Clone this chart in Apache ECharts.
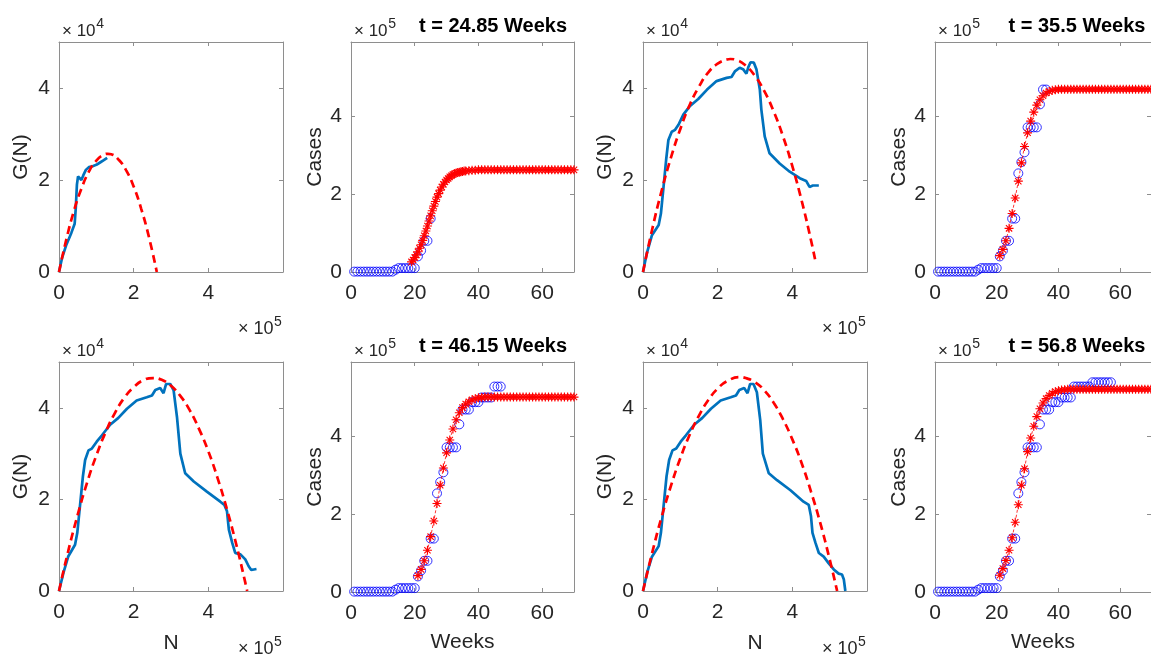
<!DOCTYPE html>
<html><head><meta charset="utf-8">
<script src="https://cdn.jsdelivr.net/npm/echarts@6/dist/echarts.min.js"></script>
<style>html,body{margin:0;padding:0;background:#fff;}#c{width:1151px;height:655px;}</style>
</head><body><div id="c"></div>
<script>
// ---------- DATA (N in 10^5, G(N) in 10^4, Cases in 10^5) ----------
const titles = ['t = 24.85 Weeks', 't = 35.5 Weeks', 't = 46.15 Weeks', 't = 56.8 Weeks'];
const gnTicks = [0, 2, 4];
const weekTicks = [0, 20, 40, 60];

// Observed G(N) curves (blue)
const obsN1 = [0,0.08,0.2,0.33,0.42,0.45,0.48,0.51,0.56,0.6,0.65,0.72,0.8,0.9,1.0,1.1,1.2,1.29];
const obsG1 = [0,0.3,0.6,0.85,1.05,1.4,1.9,2.08,2.1,2.0,2.1,2.22,2.28,2.3,2.33,2.38,2.43,2.48];
const obsN3 = [0,0.1,0.24,0.42,0.48,0.55,0.62,0.68,0.77,0.86,0.95,1.08,1.26,1.48,1.71,1.97,2.24,2.37,2.46,2.59,2.68,2.77,2.82,2.88,2.97,3.04,3.13,3.17,3.26,3.39,3.66,3.93,4.2,4.37,4.46,4.55,4.71];
const obsG3 = [0,0.4,0.8,1.02,1.27,1.85,2.44,2.87,3.05,3.09,3.2,3.42,3.61,3.76,3.96,4.15,4.22,4.24,4.36,4.44,4.41,4.31,4.45,4.56,4.55,4.4,3.96,3.53,2.95,2.58,2.36,2.18,2.04,1.98,1.85,1.88,1.88];
const obsN5 = [0,0.12,0.25,0.43,0.49,0.56,0.64,0.7,0.79,0.88,1.01,1.15,1.37,1.59,1.82,2.08,2.35,2.49,2.58,2.71,2.8,2.87,2.98,3.07,3.16,3.25,3.38,3.61,3.96,4.32,4.43,4.5,4.55,4.64,4.72,4.86,4.99,5.08,5.15,5.22,5.29];
const obsG5 = [0,0.4,0.76,1.01,1.27,1.84,2.5,2.86,3.07,3.11,3.26,3.4,3.63,3.78,3.98,4.16,4.23,4.27,4.39,4.43,4.32,4.52,4.52,4.38,3.8,3.0,2.57,2.39,2.17,1.95,1.88,1.74,1.34,1.05,0.83,0.8,0.69,0.54,0.46,0.47,0.48];
const obsN7 = [0,0.11,0.24,0.42,0.48,0.55,0.63,0.7,0.79,0.89,1.01,1.15,1.37,1.59,1.82,2.08,2.35,2.49,2.58,2.71,2.8,2.87,2.96,3.05,3.14,3.21,3.37,3.59,3.95,4.3,4.44,4.5,4.54,4.62,4.71,4.84,4.97,5.11,5.24,5.33,5.38,5.42];
const obsG7 = [0,0.4,0.75,0.98,1.27,1.84,2.5,2.86,3.07,3.11,3.26,3.4,3.63,3.78,3.98,4.16,4.23,4.27,4.39,4.43,4.32,4.52,4.52,4.34,3.73,3.0,2.57,2.42,2.2,1.95,1.88,1.63,1.27,1.05,0.83,0.75,0.61,0.47,0.38,0.36,0.25,0];

// Fitted G(N) curves (red dashed)
const fitN1 = [0,0.2,0.4,0.6,0.8,1.0,1.2,1.31,1.4,1.6,1.8,2.0,2.2,2.4,2.62];
const fitG1 = [0,0.72,1.33,1.81,2.18,2.42,2.55,2.57,2.56,2.44,2.21,1.86,1.38,0.79,0];
const fitN3 = [0,0.25,0.5,0.75,1.0,1.25,1.5,1.75,2.0,2.25,2.34,2.5,2.75,3.0,3.25,3.5,3.75,4.0,4.25,4.5,4.62];
const fitG3 = [0,0.94,1.77,2.49,3.11,3.63,4.03,4.34,4.53,4.62,4.63,4.61,4.49,4.26,3.93,3.49,2.95,2.3,1.55,0.69,0.23];
const fitN5 = [0,0.25,0.5,0.75,1,1.25,1.5,1.75,2,2.25,2.52,2.75,3,3.25,3.5,3.75,4,4.25,4.5,4.75,5,5.04];
const fitG5 = [0,0.88,1.66,2.36,2.96,3.47,3.89,4.22,4.45,4.6,4.65,4.61,4.48,4.26,3.95,3.54,3.05,2.46,1.78,1.01,0.15,0];
const fitN7 = [0,0.25,0.5,0.75,1,1.25,1.5,1.75,2,2.25,2.6,2.75,3,3.25,3.5,3.75,4,4.25,4.5,4.75,5,5.2];
const fitG7 = [0,0.85,1.62,2.3,2.9,3.41,3.83,4.17,4.42,4.58,4.67,4.65,4.56,4.38,4.11,3.75,3.31,2.79,2.17,1.48,0.69,0];

// Observed weekly cumulative cases (blue circles)
const obsWeeks = [1,2,3,4,5,6,7,8,9,10,11,12,13,14,15,16,17,18,19,20,21,22,23,24,25,26,27,28,29,30,31,32,33,34,35,36,37,38,39,40,41,42,43,44,45,46,47,48,49,50,51,52,53,54,55,56,57];
const obsCases = [0.01,0.01,0.01,0.01,0.01,0.01,0.01,0.01,0.01,0.01,0.01,0.01,0.01,0.06,0.1,0.1,0.1,0.1,0.1,0.1,0.4,0.55,0.8,0.8,1.37,1.37,2.53,2.82,3.07,3.71,3.71,3.71,3.71,4.3,4.68,4.68,4.68,4.87,4.87,4.87,4.99,4.99,4.99,4.99,5.27,5.27,5.27,5.27,5.27,5.27,5.38,5.38,5.38,5.38,5.38,5.38,5.38];
const obsCount = [25, 36, 47, 57];

// Model cases (red asterisks)
const modelWeeksA = [19,19.5,20,20.5,21,21.5,22,22.5,23,23.5,24,24.5,25,25.5,26,26.5,27,27.5,28,28.5,29,29.5,30,30.5,31,31.5,32,32.5,33,33.5,34,34.5,35,35.5,36,37,38,39,40,41,42,43,44,45,46,47,48,49,50,51,52,53,54,55,56,57,58,59,60,61,62,63,64,65,66,67,68,69,70];
const modelCasesA = [0.26,0.31,0.37,0.44,0.52,0.61,0.7,0.81,0.93,1.05,1.18,1.31,1.44,1.57,1.69,1.81,1.92,2.01,2.1,2.18,2.25,2.31,2.36,2.4,2.44,2.47,2.5,2.52,2.54,2.55,2.56,2.57,2.58,2.59,2.59,2.6,2.61,2.61,2.62,2.62,2.62,2.62,2.62,2.62,2.62,2.62,2.62,2.62,2.62,2.62,2.62,2.62,2.62,2.62,2.62,2.62,2.62,2.62,2.62,2.62,2.62,2.62,2.62,2.62,2.62,2.62,2.62,2.62,2.62];
const modelWeeksB = [21,22,23,24,25,26,27,28,29,30,31,32,33,34,35,36,37,38,39,40,41,42,43,44,45,46,47,48,49,50,51,52,53,54,55,56,57,58,59,60,61,62,63,64,65,66,67,68,69,70];
const modelCases2 = [0.42,0.58,0.8,1.12,1.5,1.9,2.33,2.8,3.22,3.57,3.87,4.1,4.28,4.42,4.52,4.59,4.63,4.66,4.675,4.685,4.69,4.69,4.69,4.69,4.69,4.69,4.69,4.69,4.69,4.69,4.69,4.69,4.69,4.69,4.69,4.69,4.69,4.69,4.69,4.69,4.69,4.69,4.69,4.69,4.69,4.69,4.69,4.69,4.69,4.69];
const modelCases3 = [0.42,0.58,0.8,1.07,1.42,1.82,2.27,2.74,3.18,3.57,3.9,4.18,4.42,4.6,4.73,4.82,4.88,4.93,4.96,4.98,4.99,5.0,5.0,5.0,5.0,5.0,5.0,5.0,5.0,5.0,5.0,5.0,5.0,5.0,5.0,5.0,5.0,5.0,5.0,5.0,5.0,5.0,5.0,5.0,5.0,5.0,5.0,5.0,5.0,5.0];
const modelCases4 = [0.43,0.6,0.81,1.07,1.39,1.79,2.24,2.74,3.16,3.6,3.95,4.25,4.5,4.7,4.85,4.96,5.04,5.1,5.14,5.16,5.18,5.19,5.2,5.2,5.2,5.2,5.2,5.2,5.2,5.2,5.2,5.2,5.2,5.2,5.2,5.2,5.2,5.2,5.2,5.2,5.2,5.2,5.2,5.2,5.2,5.2,5.2,5.2,5.2,5.2];

// ---------- LAYOUT / STYLE ----------
const FONT = '"Liberation Sans", Arial, Helvetica, sans-serif';
const AXC = '#8e8e8e', TXT = '#262626';
const colLeft = [59, 351, 643, 935];
const colW = [224, 223, 224, 220];
const rowTop = [42, 362];
const rowH = [230, 230];
const zip = (a, b) => a.map((v, i) => [v, b[i]]);
const ASTER = 'path://M0,-10L0,10M-10,0L10,0M-7,-7L7,7M-7,7L7,-7';

const gnPanels = [
  {row:0, col:0, obs:[obsN1,obsG1], fit:[fitN1,fitG1]},
  {row:0, col:2, obs:[obsN3,obsG3], fit:[fitN3,fitG3]},
  {row:1, col:0, obs:[obsN5,obsG5], fit:[fitN5,fitG5]},
  {row:1, col:2, obs:[obsN7,obsG7], fit:[fitN7,fitG7]}
];
const casePanels = [
  {row:0, col:1, k:0, mw:modelWeeksA, mc:modelCasesA},
  {row:0, col:3, k:1, mw:modelWeeksB, mc:modelCases2},
  {row:1, col:1, k:2, mw:modelWeeksB, mc:modelCases3},
  {row:1, col:3, k:3, mw:modelWeeksB, mc:modelCases4}
];

const grid = [], xAxis = [], yAxis = [], series = [], graphic = [];
function lbl(size){ return {fontFamily: FONT, fontSize: size, color: TXT}; }

function addAxes(p, xmax, xint, ymax, yint, yname, xname){
  const gi = grid.length;
  grid.push({left: colLeft[p.col], top: rowTop[p.row], width: colW[p.col], height: rowH[p.row], containLabel: false});
  const common = {axisLine:{show:true, onZero:false, lineStyle:{color:AXC, width:1}}, axisTick:{show:true, inside:true, length:4, lineStyle:{color:AXC}}, splitLine:{show:false}};
  xAxis.push(Object.assign({type:'value', gridIndex:gi, position:'bottom', min:0, max:xmax, interval:xint,
    axisLabel:Object.assign({margin:11, showMaxLabel:false}, lbl(21)),
    name: xname || '', nameLocation:'middle', nameGap: xname === 'N' ? 42 : 40, nameTextStyle: lbl(21)}, common));
  xAxis.push(Object.assign({type:'value', gridIndex:gi, position:'top', min:0, max:xmax, interval:xint, axisLabel:{show:false}}, common));
  yAxis.push(Object.assign({type:'value', gridIndex:gi, position:'left', min:0, max:ymax, interval:yint,
    axisLabel:Object.assign({margin:9, showMaxLabel:false}, lbl(21)),
    name: yname, nameLocation:'middle', nameRotate:90, nameGap: yname === 'G(N)' ? 27 : 25, nameTextStyle: lbl(21)}, common));
  yAxis.push(Object.assign({type:'value', gridIndex:gi, position:'right', min:0, max:ymax, interval:yint, axisLabel:{show:false}}, common));
  return gi;
}

function expLabel(x, y, sup, size){
  graphic.push({type:'text', x:x, y:y, silent:true, style:{text:'× 10', font: size + 'px ' + FONT, fill:TXT, align:'left', verticalAlign:'middle', textAlign:'left', textVerticalAlign:'middle'}});
  graphic.push({type:'text', x:x + size*1.95 + 1, y:y - 6.5, silent:true, style:{text:sup, font:'14px ' + FONT, fill:TXT, align:'left', verticalAlign:'middle', textAlign:'left', textVerticalAlign:'middle'}});
}

gnPanels.forEach(p => {
  const gi = addAxes(p, 6, 2, 5, 2, 'G(N)', p.row === 1 ? 'N' : '');
  series.push({type:'line', xAxisIndex:gi*2, yAxisIndex:gi*2, data: zip(p.obs[0], p.obs[1]), showSymbol:false, smooth:false,
    lineStyle:{color:'#0072BD', width:2.7}, z:2});
  series.push({type:'line', xAxisIndex:gi*2, yAxisIndex:gi*2, data: zip(p.fit[0], p.fit[1]), showSymbol:false, smooth:true,
    lineStyle:{color:'#FF0000', width:2.7, type:[8,5]}, z:3});
  const L = colLeft[p.col], T = rowTop[p.row], R = L + colW[p.col], B = T + rowH[p.row];
  expLabel(L + 3, T - 11, '4', 17);
  expLabel(R - 45, B + 57, '5', 18);
});

casePanels.forEach(p => {
  const gi = addAxes(p, 70, 20, 5.9, 2, 'Cases', p.row === 1 ? 'Weeks' : '');
  const n = obsCount[p.k];
  series.push({type:'scatter', xAxisIndex:gi*2, yAxisIndex:gi*2, data: zip(obsWeeks.slice(0,n), obsCases.slice(0,n)),
    symbol:'circle', symbolSize:9, itemStyle:{color:'rgba(0,0,0,0)', borderColor:'#0000FF', borderWidth:1}, z:2});
  series.push({type:'line', xAxisIndex:gi*2, yAxisIndex:gi*2, data: zip(p.mw, p.mc), symbol:ASTER, symbolSize:9, showAllSymbol:true,
    lineStyle:{color:'#FF0000', width:0.8, type:[3,2]}, itemStyle:{color:'#FF0000', borderColor:'#FF0000', borderWidth:1.1}, z:3});
  const L = colLeft[p.col], T = rowTop[p.row];
  expLabel(L + 3, T - 11, '5', 17);
  graphic.push({type:'text', x: L + 142, y: T - 16, silent:true, style:{text: titles[p.k], font:'bold 20px ' + FONT, fill:'#000', align:'center', verticalAlign:'middle', textAlign:'center', textVerticalAlign:'middle'}});
});

const chart = echarts.init(document.getElementById('c'), null, {renderer:'canvas'});
chart.setOption({animation:false, backgroundColor:'#fff', grid, xAxis, yAxis, series, graphic});
</script></body></html>
